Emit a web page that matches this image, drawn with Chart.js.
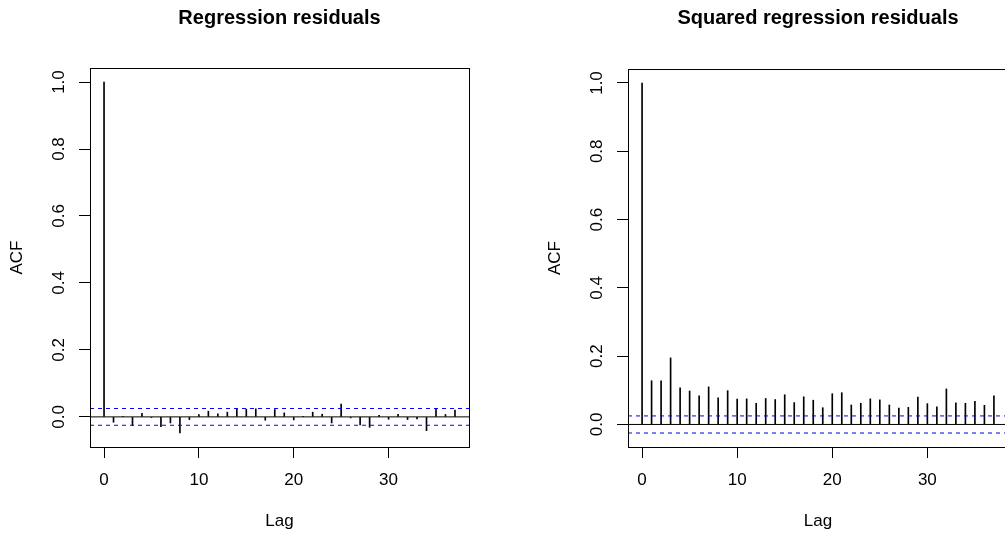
<!DOCTYPE html>
<html>
<head>
<meta charset="utf-8">
<title>ACF of regression residuals</title>
<script src="https://cdn.jsdelivr.net/npm/chart.js@4/dist/chart.umd.min.js"></script>
<style>
  html, body { margin: 0; padding: 0; background: #fff; overflow: hidden; }
  .panel { position: absolute; top: 0; height: 536px; }
  #left { left: 0; width: 505px; }
  #right { left: 538px; width: 470px; }
</style>
</head>
<body>
<div class="panel" id="left"><canvas id="acfResid"></canvas></div>
<div class="panel" id="right"><canvas id="acfSquared"></canvas></div>
<script>
// lags 0..37
var lags = [0, 1, 2, 3, 4, 5, 6, 7, 8, 9, 10, 11, 12, 13, 14, 15, 16, 17, 18, 19,
            20, 21, 22, 23, 24, 25, 26, 27, 28, 29, 30, 31, 32, 33, 34, 35, 36, 37];

// autocorrelations of the residuals
var residAcf = [1.0, -0.016, 0.002, -0.026, 0.011, -0.002, -0.029, -0.018, -0.048, -0.008,
                0.007, 0.017, 0.009, 0.014, 0.024, 0.023, 0.024, -0.010, 0.022, 0.012,
                -0.009, 0.001, 0.014, 0.008, -0.018, 0.038, -0.003, -0.024, -0.031, 0.005,
                -0.007, 0.008, -0.008, -0.006, -0.041, 0.024, 0.007, 0.020];

// autocorrelations of the squared residuals
var squaredAcf = [1.0, 0.128, 0.128, 0.195, 0.107, 0.098, 0.084, 0.110, 0.078, 0.099,
                  0.074, 0.075, 0.062, 0.076, 0.073, 0.087, 0.064, 0.081, 0.071, 0.049,
                  0.090, 0.093, 0.057, 0.062, 0.075, 0.072, 0.057, 0.048, 0.050, 0.080,
                  0.061, 0.052, 0.104, 0.063, 0.062, 0.068, 0.056, 0.084];

// white-noise bound, 1.96/sqrt(n)
var ciBound = 0.025;

var xTicks = [0, 10, 20, 30];
var yTicks = [0, 0.2, 0.4, 0.6, 0.8, 1.0];

var FONT = '"Liberation Sans", Arial, Helvetica, sans-serif';

// R style limits: data range stretched by 4% each side
function padRange(lo, hi) {
  var pad = (hi - lo) * 0.04;
  return [lo - pad, hi + pad];
}

var plotBox = {
  id: 'plotBox',
  afterDraw: function (chart) {
    var a = chart.chartArea, ctx = chart.ctx;
    ctx.save();
    ctx.strokeStyle = '#000';
    ctx.lineWidth = 1;
    ctx.strokeRect(Math.round(a.left) + 0.5, Math.round(a.top) + 0.5,
                   Math.round(a.right - a.left), Math.round(a.bottom - a.top));
    ctx.restore();
  }
};

function acfChart(id, title, values, padRight, titleGap) {
  var xr = padRange(lags[0], lags[lags.length - 1]);
  var yr = padRange(Math.min.apply(null, values.concat([-ciBound])),
                    Math.max.apply(null, values.concat([ciBound])));

  var spikes = lags.map(function (l, i) { return { x: l, y: values[i] }; });
  var hline = function (v) { return [{ x: xr[0], y: v }, { x: xr[1], y: v }]; };

  return new Chart(document.getElementById(id), {
    type: 'bar',
    data: {
      datasets: [
        { type: 'bar', data: spikes, backgroundColor: '#000', borderWidth: 0,
          barThickness: 1, grouped: false, order: 3 },
        { type: 'line', data: hline(0), borderColor: '#000', borderWidth: 1,
          pointRadius: 0, order: 2 },
        { type: 'line', data: hline(ciBound), borderColor: '#0000ff', borderWidth: 1,
          borderDash: [4, 4], pointRadius: 0, order: 1 },
        { type: 'line', data: hline(-ciBound), borderColor: '#0000ff', borderWidth: 1,
          borderDash: [4, 4], pointRadius: 0, order: 1 }
      ]
    },
    options: {
      responsive: true,
      maintainAspectRatio: false,
      animation: false,
      layout: { padding: { left: 0, right: padRight, top: 0, bottom: 0 } },
      plugins: {
        legend: { display: false },
        tooltip: { enabled: false },
        title: {
          display: true,
          text: title,
          fullSize: false,
          color: '#000',
          font: { family: FONT, size: 20, weight: 'bold' },
          padding: { top: 6, bottom: titleGap }
        }
      },
      scales: {
        x: {
          type: 'linear',
          min: xr[0],
          max: xr[1],
          offset: false,
          afterBuildTicks: function (s) { s.ticks = xTicks.map(function (v) { return { value: v }; }); },
          afterFit: function (s) { s.height = 89; },
          grid: { drawOnChartArea: false, offset: false, color: '#000', tickLength: 11 },
          border: { display: false },
          ticks: {
            autoSkip: false, maxRotation: 0, color: '#000', padding: 12,
            font: { family: FONT, size: 17 },
            callback: function (v) { return String(v); }
          },
          title: {
            display: true, text: 'Lag', color: '#000',
            font: { family: FONT, size: 17 },
            padding: { top: 0, bottom: 4 }
          }
        },
        y: {
          min: yr[0],
          max: yr[1],
          afterBuildTicks: function (s) { s.ticks = yTicks.map(function (v) { return { value: v }; }); },
          afterFit: function (s) { s.width = 90; },
          grid: { drawOnChartArea: false, color: '#000', tickLength: 11 },
          border: { display: false },
          ticks: {
            color: '#000', padding: 8, minRotation: 90, maxRotation: 90,
            crossAlign: 'center',
            font: { family: FONT, size: 17 },
            callback: function (v) { return v.toFixed(1); }
          },
          title: {
            display: true, text: 'ACF', color: '#000',
            font: { family: FONT, size: 17 },
            padding: { top: 7, bottom: 0 }
          }
        }
      }
    },
    plugins: [plotBox]
  });
}

acfChart('acfResid', 'Regression residuals', residAcf, 36, 38);
acfChart('acfSquared', 'Squared regression residuals', squaredAcf, 0, 39);
</script>
</body>
</html>
